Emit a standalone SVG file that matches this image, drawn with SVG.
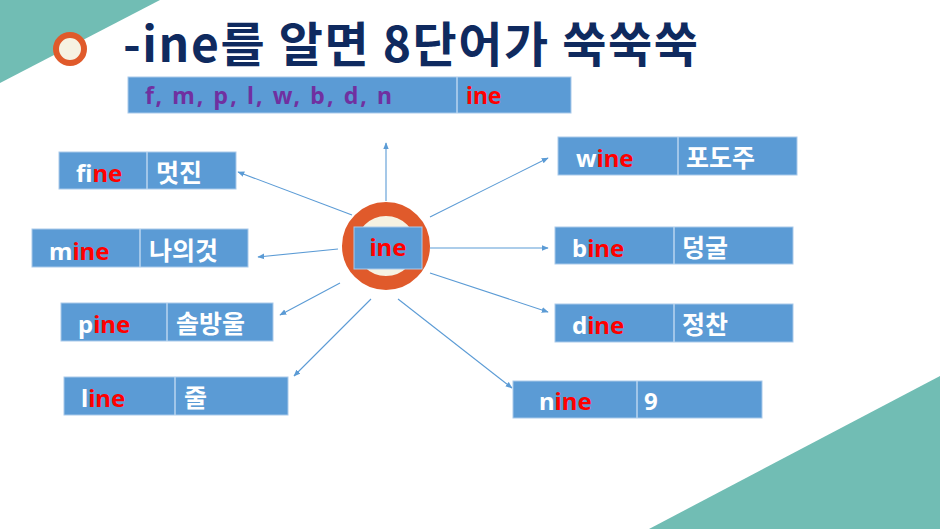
<svg xmlns="http://www.w3.org/2000/svg" width="940" height="529" viewBox="0 0 940 529">
<style>
.box{fill:#5b9bd5;stroke:#a9c9ea;stroke-width:1}
.div{stroke:#b9d4ef;stroke-width:1.5}
.t{font-family:"Noto Sans","Noto Sans CJK KR",sans-serif;font-weight:bold;font-size:24px;fill:#ffffff}
.r{fill:#ff0000}
.k{font-family:"Noto Sans CJK KR",sans-serif;font-weight:bold;font-size:25px;fill:#ffffff}
.conn line{stroke:#5b9bd5;stroke-width:1.1;marker-end:url(#ah)}
</style>
<defs>
<marker id="ah" viewBox="0 0 10 10" refX="9" refY="5" markerWidth="7" markerHeight="7" markerUnits="userSpaceOnUse" orient="auto">
<path d="M0,1 L10,5 L0,9 z" fill="#5b9bd5"/>
</marker>
</defs>
<rect width="940" height="529" fill="#ffffff"/>
<polygon points="0,0 160,0 0,83" fill="#71bdb4"/>
<polygon points="649,529 940,376 940,529" fill="#71bdb4"/>

<g id="title">
<circle cx="70" cy="49" r="14" fill="#f6f2e2" stroke="#e05a2b" stroke-width="6"/>
<text x="123" y="62" font-family="Noto Sans CJK KR,sans-serif" font-weight="bold" font-size="48" fill="#0f2a5f" textLength="575" lengthAdjust="spacing">-ine를 알면 8단어가 쑥쑥쑥</text>
</g>

<g id="top-bar">
<rect class="box" x="128" y="77" width="443" height="36"/>
<line class="div" x1="457" y1="77" x2="457" y2="113"/>
<text x="145" y="104" font-family="Noto Sans,sans-serif" font-weight="bold" font-size="23" fill="#7030a0" textLength="247" lengthAdjust="spacing">f, m, p, l, w, b, d, n</text>
<text x="466" y="104" font-family="Noto Sans,sans-serif" font-weight="bold" font-size="23" fill="#ff0000">ine</text>
</g>

<g class="conn" id="connectors">
<line x1="386" y1="201" x2="386" y2="143"/>
<line x1="352" y1="215" x2="238" y2="172"/>
<line x1="338" y1="249" x2="258" y2="257"/>
<line x1="340" y1="283" x2="280" y2="315"/>
<line x1="371" y1="299" x2="294" y2="376"/>
<line x1="398" y1="299" x2="512" y2="388"/>
<line x1="430" y1="273" x2="548" y2="312"/>
<line x1="430" y1="248" x2="548" y2="248"/>
<line x1="430" y1="217" x2="548" y2="158"/>
</g>

<g id="center">
<circle cx="386" cy="246" r="37" fill="#f6f2e2" stroke="#e05a2b" stroke-width="14"/>
<rect class="box" x="354" y="227" width="68" height="42" stroke="#ffffff"/>
<text class="t r" x="388" y="256" text-anchor="middle">ine</text>
</g>

<g id="fine">
<rect class="box" x="59" y="152" width="177" height="37"/>
<line class="div" x1="147" y1="152" x2="147" y2="189"/>
<text class="t" x="76" y="182">f<tspan class="r">ine</tspan></text>
<text class="k" x="156" y="182">멋진</text>
</g>
<g id="mine">
<rect class="box" x="32" y="229" width="216" height="38"/>
<line class="div" x1="140" y1="229" x2="140" y2="267"/>
<text class="t" x="49" y="260">m<tspan class="r">ine</tspan></text>
<text class="k" x="149" y="260">나의것</text>
</g>
<g id="pine">
<rect class="box" x="61" y="303" width="212" height="38"/>
<line class="div" x1="167" y1="303" x2="167" y2="341"/>
<text class="t" x="78" y="333">p<tspan class="r">ine</tspan></text>
<text class="k" x="176" y="333">솔방울</text>
</g>
<g id="line">
<rect class="box" x="64" y="377" width="224" height="38"/>
<line class="div" x1="175" y1="377" x2="175" y2="415"/>
<text class="t" x="81" y="407">l<tspan class="r">ine</tspan></text>
<text class="k" x="184" y="407">줄</text>
</g>
<g id="wine">
<rect class="box" x="558" y="137" width="239" height="38"/>
<line class="div" x1="678" y1="137" x2="678" y2="175"/>
<text class="t" x="576" y="167">w<tspan class="r">ine</tspan></text>
<text class="k" x="686" y="167">포도주</text>
</g>
<g id="bine">
<rect class="box" x="555" y="227" width="238" height="37"/>
<line class="div" x1="674" y1="227" x2="674" y2="264"/>
<text class="t" x="572" y="257">b<tspan class="r">ine</tspan></text>
<text class="k" x="682" y="257">덩굴</text>
</g>
<g id="dine">
<rect class="box" x="555" y="304" width="238" height="38"/>
<line class="div" x1="674" y1="304" x2="674" y2="342"/>
<text class="t" x="572" y="334">d<tspan class="r">ine</tspan></text>
<text class="k" x="682" y="334">정찬</text>
</g>
<g id="nine">
<rect class="box" x="513" y="381" width="249" height="37"/>
<line class="div" x1="637" y1="381" x2="637" y2="418"/>
<text class="t" x="539" y="410">n<tspan class="r">ine</tspan></text>
<text class="t" x="644" y="410">9</text>
</g>
</svg>
